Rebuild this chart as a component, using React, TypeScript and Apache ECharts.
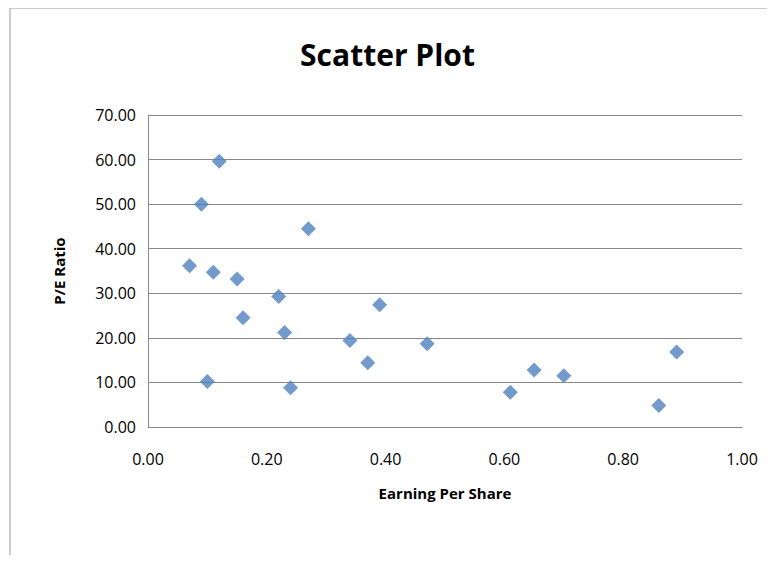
import { useEffect, useRef } from 'react';
import * as echarts from 'echarts';

const eps = [0.07, 0.09, 0.12, 0.11, 0.10, 0.15, 0.16, 0.22, 0.23, 0.24, 0.27, 0.34, 0.37, 0.39, 0.47, 0.61, 0.65, 0.70, 0.86, 0.89];
const pe = [36.2, 50.0, 59.6, 34.7, 10.2, 33.2, 24.5, 29.3, 21.2, 8.8, 44.5, 19.4, 14.4, 27.4, 18.7, 7.8, 12.8, 11.5, 4.8, 16.8];

const font = 'Open Sans';

export default function App() {
    const chartRef = useRef<HTMLDivElement>(null);

    useEffect(() => {
        if (!chartRef.current) return;
        const chart = echarts.init(chartRef.current, undefined, { renderer: 'svg' });

        const option: echarts.EChartsOption = {
            animation: false,
            backgroundColor: '#fff',
            title: {
                text: 'Scatter Plot',
                left: 'center',
                top: 34,
                textStyle: { fontSize: 30, fontWeight: 'bold', color: '#000', fontFamily: font },
            },
            grid: { left: 148, right: 33, top: 115, bottom: 136 },
            xAxis: {
                type: 'value',
                min: 0,
                max: 1,
                interval: 0.2,
                name: 'Earning Per Share',
                nameLocation: 'middle',
                nameGap: 58,
                nameTextStyle: { fontSize: 15, fontWeight: 'bold', color: '#000', fontFamily: font },
                axisLine: { show: true, lineStyle: { color: '#888' } },
                axisTick: { show: false },
                axisLabel: { formatter: (v: number) => v.toFixed(2), fontSize: 16, color: '#000', fontFamily: font, margin: 24 },
                splitLine: { show: false },
            },
            yAxis: {
                type: 'value',
                min: 0,
                max: 70,
                interval: 10,
                name: 'P/E Ratio',
                nameLocation: 'middle',
                nameGap: 82,
                nameTextStyle: { fontSize: 15, fontWeight: 'bold', color: '#000', fontFamily: font },
                axisLine: { show: true, lineStyle: { color: '#888' } },
                axisTick: { show: false },
                axisLabel: { formatter: (v: number) => v.toFixed(2), fontSize: 16, color: '#000', fontFamily: font, margin: 12 },
                splitLine: { show: true, lineStyle: { color: '#888' } },
            },
            series: [
                {
                    type: 'scatter',
                    symbol: 'diamond',
                    symbolSize: 15,
                    itemStyle: { color: '#4F81BD' },
                    data: eps.map((x, i) => [x, pe[i]]),
                },
            ],
            graphic: [
                {
                    type: 'rect',
                    shape: { x: 10, y: 8, width: 770, height: 560 },
                    style: { fill: 'none', stroke: '#999', lineWidth: 1 },
                },
            ],
        };

        chart.setOption(option);
        return () => chart.dispose();
    }, []);

    return <div ref={chartRef} style={{ width: 775, height: 563, margin: -8 }} />;
}
